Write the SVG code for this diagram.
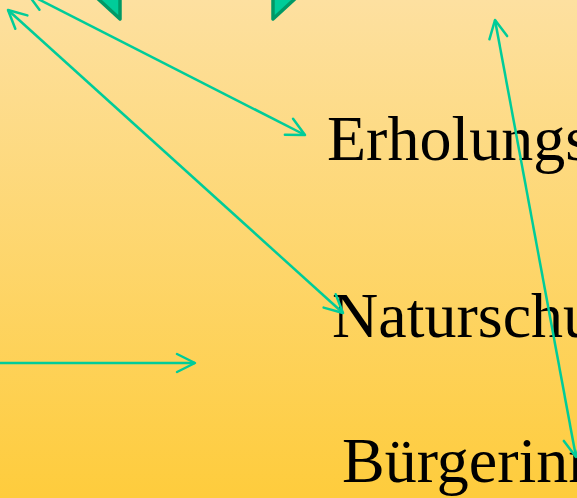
<svg xmlns="http://www.w3.org/2000/svg" width="577" height="498" viewBox="0 0 577 498">
<defs>
<linearGradient id="bg" x1="0" y1="0" x2="0" y2="1">
<stop offset="0" stop-color="#FDE0A0"/>
<stop offset="1" stop-color="#FECC3C"/>
</linearGradient>
<marker id="ah" markerUnits="userSpaceOnUse" markerWidth="26" markerHeight="26" viewBox="-22 -13 26 26" refX="0" refY="0" orient="auto-start-reverse" overflow="visible">
<path d="M-18,-9 L0,0 L-18,9" fill="none" stroke="#00CC99" stroke-width="2.5" stroke-linecap="round" stroke-linejoin="round"/>
</marker>
<style>
.lbl{font-family:"Liberation Serif","Times New Roman",serif;font-size:64px;fill:#000}
.con{stroke:#00CC99;stroke-width:2.5;fill:none}
.shp{fill:#00CC99;stroke:#009966;stroke-width:3.5;stroke-linejoin:round}
</style>
</defs>
<rect x="0" y="0" width="577" height="498" fill="url(#bg)"/>
<g id="shape-left"><polygon class="shp" points="95,-4 120,19 120,-4"/></g>
<g id="shape-right"><polygon class="shp" points="298,-4 273,19 273,-4"/></g>
<g id="node-erholung"><text class="lbl" x="327" y="160">Erholungs</text></g>
<g id="node-naturschutz"><text class="lbl" x="332" y="337">Naturschu</text></g>
<g id="node-buerger"><text class="lbl" x="342" y="482">Bürgerinn</text></g>
<g id="connectors">
<line class="con" x1="27.5" y1="-6.4" x2="305" y2="135" marker-start="url(#ah)" marker-end="url(#ah)"/>
<line class="con" x1="8" y1="10" x2="343" y2="313" marker-start="url(#ah)" marker-end="url(#ah)"/>
<line class="con" x1="495" y1="20" x2="576" y2="457" marker-start="url(#ah)" marker-end="url(#ah)"/>
<line class="con" x1="-10" y1="363" x2="195" y2="363" marker-end="url(#ah)"/>
</g>
</svg>
